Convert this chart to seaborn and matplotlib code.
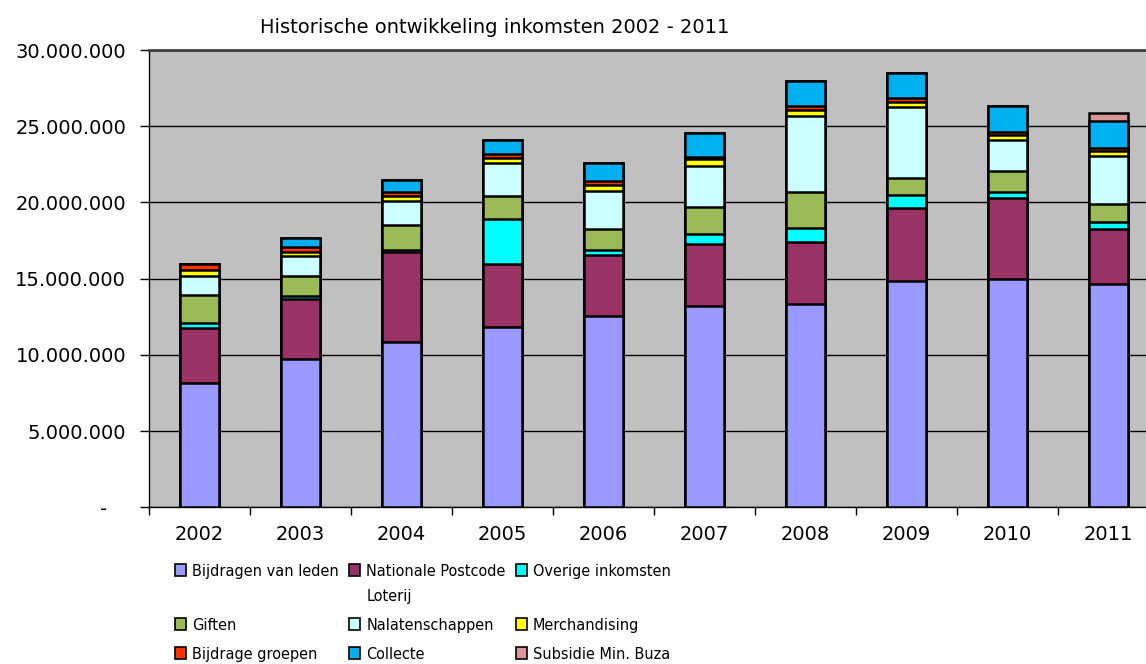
import numpy as np
import pandas as pd
import matplotlib
matplotlib.use("Agg")
import matplotlib.pyplot as plt
from matplotlib.patches import Patch
from matplotlib.ticker import FuncFormatter, FixedLocator
from matplotlib import font_manager
from matplotlib.font_manager import FontProperties
import seaborn as sns

# ---------------- data (values in millions of euro) ----------------
years = ["2002", "2003", "2004", "2005", "2006", "2007", "2008", "2009", "2010", "2011"]
series_names = ["Bijdragen van leden", "Nationale Postcode Loterij", "Overige inkomsten",
                "Giften", "Nalatenschappen", "Merchandising", "Bijdrage groepen",
                "Collecte", "Subsidie Min. Buza"]
leden = [8.16, 9.71, 10.83, 11.85, 12.57, 13.23, 13.33, 14.87, 14.97, 14.64]
postcode = [3.63, 3.93, 5.89, 4.10, 3.97, 4.03, 4.06, 4.78, 5.35, 3.62]
overige = [0.33, 0.22, 0.13, 2.98, 0.34, 0.68, 0.93, 0.82, 0.39, 0.46]
giften = [1.80, 1.29, 1.67, 1.50, 1.39, 1.79, 2.37, 1.16, 1.38, 1.16]
nalatenschappen = [1.25, 1.31, 1.55, 2.13, 2.49, 2.63, 5.00, 4.63, 2.00, 3.17]
merchandising = [0.39, 0.32, 0.33, 0.36, 0.41, 0.47, 0.39, 0.33, 0.36, 0.32]
groepen = [0.37, 0.31, 0.26, 0.24, 0.24, 0.18, 0.22, 0.26, 0.18, 0.18]
collecte = [0.00, 0.58, 0.82, 0.96, 1.16, 1.52, 1.68, 1.61, 1.72, 1.81]
subsidie = [0.00, 0.00, 0.00, 0.00, 0.00, 0.00, 0.00, 0.00, 0.00, 0.51]
y_ticks = [0, 5e6, 10e6, 15e6, 20e6, 25e6, 30e6]
title = "Historische ontwikkeling inkomsten 2002 - 2011"

colors = ["#9999FF", "#993366", "#00FFFF", "#9BBB59", "#CCFFFF",
          "#FFFF00", "#FF3300", "#00B0F0", "#D99694"]

series = [leden, postcode, overige, giften, nalatenschappen,
          merchandising, groepen, collecte, subsidie]

sns.set_theme(style="white")
plt.rcParams["font.family"] = ["DejaVu Sans"]

# narrower face for the legend if the condensed DejaVu is installed
cond_path = font_manager.findfont(FontProperties(family="DejaVu Sans", stretch="condensed"))
has_cond = "ondensed" in cond_path
if has_cond:
    leg_prop = FontProperties(fname=cond_path, size=11.6)
else:
    leg_prop = FontProperties(family="DejaVu Sans", size=10.4)

W, H = 1146, 664
fig = plt.figure(figsize=(W / 100, H / 100), dpi=100)
left_px, top_px, bottom_px = 149, 50, 507.3
ax = fig.add_axes([left_px / W, 1 - bottom_px / H, 1 - left_px / W, (bottom_px - top_px) / H])
ax.set_facecolor("#C0C0C0")

values = np.array(series) * 1e6
cum = np.cumsum(values, axis=0)
df = pd.DataFrame({"year": years})
for i in range(len(series) - 1, -1, -1):
    df["cum"] = cum[i]
    sns.barplot(data=df, x="year", y="cum", order=years, color=colors[i], saturation=1,
                edgecolor="black", linewidth=1.8, width=0.39, errorbar=None,
                ax=ax, zorder=3)

ax.set_xlabel("")
ax.set_ylabel("")
ax.set_ylim(0, 30e6)
ax.set_xlim(-0.5, (W - left_px) / 101 - 0.5)

ax.set_yticks(y_ticks)
ax.yaxis.set_major_formatter(FuncFormatter(
    lambda v, p: "-   " if v == 0 else f"{int(round(v)):,}".replace(",", ".")))
ax.yaxis.grid(True, color="black", linewidth=1.0, zorder=0)
ax.set_axisbelow(True)
ax.tick_params(axis="y", which="major", left=True, length=6.5, width=1, color="black",
               direction="out", pad=10, labelsize=14, labelcolor="black")
ax.xaxis.set_minor_locator(FixedLocator(np.arange(-0.5, 10, 1.0)))
ax.tick_params(axis="x", which="major", bottom=True, length=0, pad=13, labelsize=14,
               labelcolor="black")
ax.tick_params(axis="x", which="minor", bottom=True, length=6, width=1, color="black",
               direction="out")

for s in ["left", "bottom"]:
    ax.spines[s].set_color("black")
    ax.spines[s].set_linewidth(1.0)
ax.spines["right"].set_visible(False)
ax.spines["top"].set_color("#404040")
ax.spines["top"].set_linewidth(2.0)

fig.text(495 / W, 1 - 33 / H, title, ha="center", va="baseline", fontsize=14, color="black")

# legend: column-major ordering so that rows read like the reference
order = [0, 3, 6, 1, 4, 7, 2, 5, 8]
labels_disp = ["Bijdragen van leden\n ", "Nationale Postcode\nLoterij", "Overige inkomsten\n ",
               "Giften", "Nalatenschappen", "Merchandising",
               "Bijdrage groepen", "Collecte", "Subsidie Min. Buza"]
handles = [Patch(facecolor=colors[i], edgecolor="black", linewidth=1.2) for i in order]
labs = [labels_disp[i] for i in order]
fs_px = leg_prop.get_size() * 100 / 72
leg = fig.legend(handles=handles, labels=labs, ncol=3, loc="upper left",
                 bbox_to_anchor=(175 / W, 1 - 564 / H), frameon=False, prop=leg_prop,
                 labelcolor="black",
                 handlelength=11 / fs_px, handleheight=13 / fs_px, handletextpad=6 / fs_px,
                 columnspacing=10.5 / fs_px, labelspacing=0.85, borderpad=0, borderaxespad=0)
for t in leg.get_texts():
    t.set_linespacing(1.85)
for col in leg._legend_handle_box.get_children():
    items = col.get_children()
    items[0].align = "top"

fig.savefig("out.png", dpi=100)
